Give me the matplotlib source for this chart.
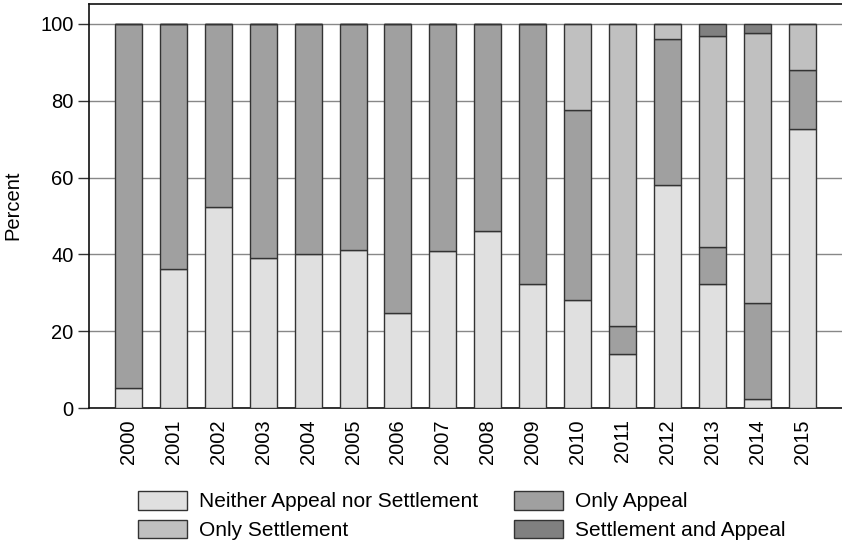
import matplotlib
matplotlib.use("Agg")
import matplotlib.pyplot as plt
import numpy as np

plt.rcParams['font.family'] = ['Liberation Sans', 'DejaVu Sans']

years = [str(y) for y in range(2000, 2016)]
neither = [5.1, 36.1, 52.3, 39.1, 40.0, 41.2, 24.8, 41.0, 46.1, 32.4, 28.2, 14.1, 58.0, 32.2, 2.3, 72.7]
only_appeal = [94.9, 63.9, 47.7, 60.9, 60.0, 58.8, 75.2, 59.0, 53.9, 67.6, 49.5, 7.2, 38.0, 9.7, 25.0, 15.2]
only_settlement = [0, 0, 0, 0, 0, 0, 0, 0, 0, 0, 22.3, 78.7, 4.0, 55.0, 70.3, 12.1]
settle_and_appeal = [0, 0, 0, 0, 0, 0, 0, 0, 0, 0, 0, 0, 0, 3.1, 2.4, 0]
yticks = [0, 20, 40, 60, 80, 100]

series = [
    ("Neither Appeal nor Settlement", neither, "#e0e0e0"),
    ("Only Appeal", only_appeal, "#a0a0a0"),
    ("Only Settlement", only_settlement, "#c0c0c0"),
    ("Settlement and Appeal", settle_and_appeal, "#808080"),
]

fig = plt.figure(figsize=(8.42, 5.44), dpi=100)
ax = fig.add_axes([89/842, 1-408/544, 1-89/842 - 0.0005, (408-3.5)/544])

x = np.arange(len(years))
bottom = np.zeros(len(years))
handles = {}
for name, vals, col in series:
    v = np.array(vals, dtype=float)
    b = ax.bar(x, v, width=0.6, bottom=bottom, color=col, edgecolor="#333333",
               linewidth=1.0, zorder=3, label=name)
    handles[name] = b
    bottom += v

ax.set_xlim(-0.88, len(years) - 1 + 0.88)
ax.set_ylim(0, 105.3)
ax.set_yticks(yticks)
ax.set_yticklabels([str(t) for t in yticks], fontsize=14.5)
ax.set_xticks(x)
ax.set_xticklabels(years, rotation=90, fontsize=14.5)
ax.tick_params(axis='x', length=0, pad=8)
ax.tick_params(axis='y', length=8, width=1, color="#333333", pad=3)
ax.yaxis.grid(True, color="#888888", linewidth=1.0, zorder=0)
ax.set_axisbelow(True)
for s in ax.spines.values():
    s.set_color("#111111")
    s.set_linewidth(1.2)
ax.spines['right'].set_visible(False)
ax.set_ylabel("Percent", fontsize=14.5, labelpad=13)

order = ["Neither Appeal nor Settlement", "Only Settlement", "Only Appeal", "Settlement and Appeal"]
leg = fig.legend([handles[n] for n in order], order, ncol=2, loc="upper left",
                 bbox_to_anchor=(138/842, 1-491/544), frameon=False, fontsize=15,
                 handlelength=2.35, handleheight=1.0, handletextpad=0.6,
                 columnspacing=1.7, labelspacing=0.4, borderpad=0, borderaxespad=0)

fig.savefig("out.png", dpi=100)
